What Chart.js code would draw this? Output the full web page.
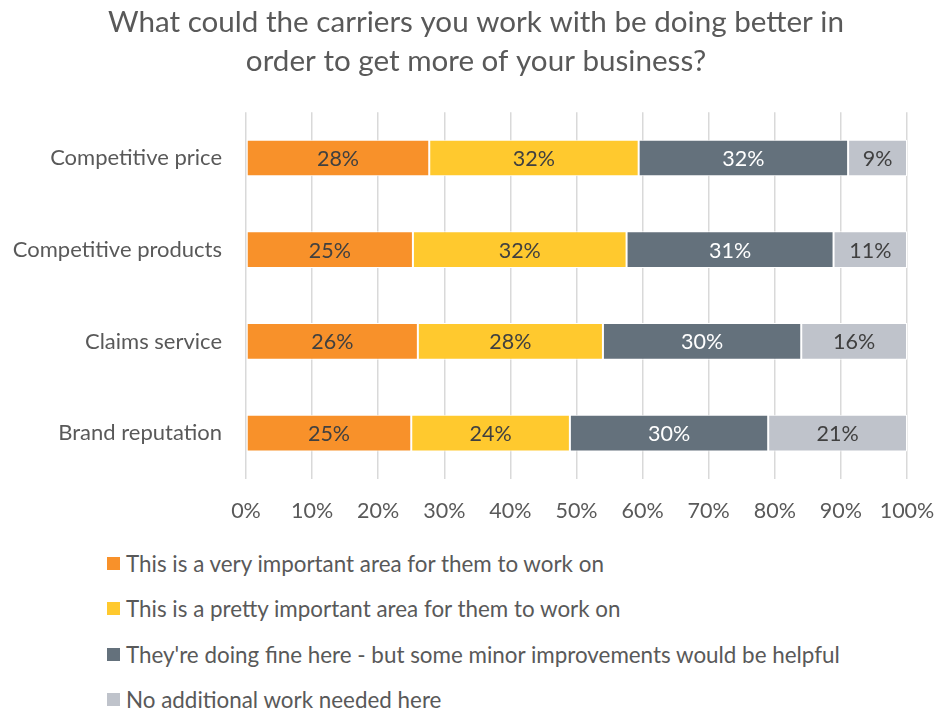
<!DOCTYPE html>
<html>
<head>
<meta charset="utf-8">
<script src="https://cdn.jsdelivr.net/npm/chart.js@4/dist/chart.umd.min.js"></script>
<style>
  html, body { margin: 0; padding: 0; background: #fff; }
  #wrap { position: relative; width: 942px; height: 709px; font-family: Lato, "Open Sans", sans-serif; }
  #chart { position: absolute; left: 0; top: 0; }
  #legend { position: absolute; left: 107px; top: 541px; color: #595959; font-size: 22.4px; }
  .item { height: 45.3px; display: flex; align-items: center; white-space: nowrap; }
  .box { width: 13px; height: 13px; margin-right: 6px; flex: none; }
</style>
</head>
<body>
<div id="wrap">
  <canvas id="chart" width="942" height="540"></canvas>
  <div id="legend"></div>
</div>
<script>
// Kategori dan nilai per jawaban (persen)
const categories = ['Competitive price', 'Competitive products', 'Claims service', 'Brand reputation'];
const seriesNames = [
  'This is a very important area for them to work on',
  'This is a pretty important area for them to work on',
  "They're doing fine here - but some minor improvements would be helpful",
  'No additional work needed here'
];
const veryImportant = [28, 25, 26, 25];
const prettyImportant = [32, 32, 28, 24];
const doingFine = [32, 31, 30, 30];
const noWork = [9, 11, 16, 21];
const tickLabels = ['0%', '10%', '20%', '30%', '40%', '50%', '60%', '70%', '80%', '90%', '100%'];

const colors = ['#F8912A', '#FFC92E', '#64717C', '#BFC3CB'];
const labelColors = ['#404040', '#404040', '#FFFFFF', '#404040'];
const raw = [veryImportant, prettyImportant, doingFine, noWork];
const fontFamily = 'Lato, "Open Sans", sans-serif';

// Total per baris, supaya batang jadi 100% (seperti stacked 100%)
const totals = categories.map((_, i) => raw.reduce((s, arr) => s + arr[i], 0));

const datasets = raw.map((arr, k) => ({
  label: seriesNames[k],
  data: arr.map((v, i) => v / totals[i] * 100),
  raw: arr,
  backgroundColor: colors[k],
  borderColor: '#FFFFFF',
  borderWidth: 1,
  borderSkipped: false,
  barPercentage: 0.4,
  categoryPercentage: 1
}));

// Plugin kecil untuk menulis angka di tengah tiap batang
const barLabels = {
  id: 'barLabels',
  afterDatasetsDraw(chart) {
    const ctx = chart.ctx;
    ctx.save();
    ctx.font = '21.5px ' + fontFamily;
    ctx.textAlign = 'center';
    ctx.textBaseline = 'middle';
    chart.data.datasets.forEach((ds, k) => {
      chart.getDatasetMeta(k).data.forEach((bar, i) => {
        const p = bar.getProps(['x', 'y', 'base']);
        ctx.fillStyle = labelColors[k];
        ctx.fillText(ds.raw[i] + '%', (p.x + p.base) / 2, p.y + 1);
      });
    });
    ctx.restore();
  }
};

const ctx = document.getElementById('chart').getContext('2d');
new Chart(ctx, {
  type: 'bar',
  data: { labels: categories, datasets: datasets },
  plugins: [barLabels],
  options: {
    indexAxis: 'y',
    responsive: false,
    animation: false,
    layout: { padding: { left: 10, right: 0, top: 0, bottom: 0 } },
    plugins: {
      legend: { display: false },
      tooltip: { enabled: false },
      title: {
        display: true,
        text: ['What could the carriers you work with be doing better in', 'order to get more of your business?'],
        color: '#595959',
        font: { family: fontFamily, size: 29.6, weight: 'normal', lineHeight: 1.32 },
        padding: { top: 3, bottom: 31 }
      }
    },
    scales: {
      x: {
        stacked: true,
        min: 0,
        max: 100,
        // ruang kanan tetap untuk label 100%
        afterFit(axis) { axis.height = 61; axis.paddingLeft = 0; axis.paddingRight = 35; },
        grid: { color: '#D9D9D9', lineWidth: 1.5, drawTicks: false },
        border: { display: false },
        ticks: {
          stepSize: 10,
          padding: 19,
          color: '#595959',
          font: { family: fontFamily, size: 21.5 },
          callback: (v, i) => tickLabels[i]
        }
      },
      y: {
        stacked: true,
        afterFit(axis) { axis.width = 236; },
        grid: { display: false, drawTicks: false },
        border: { display: false },
        ticks: {
          padding: 24,
          color: '#595959',
          font: { family: fontFamily, size: 22 }
        }
      }
    }
  }
});

// Legenda satu baris per seri
const legend = document.getElementById('legend');
seriesNames.forEach((name, k) => {
  const row = document.createElement('div');
  row.className = 'item';
  row.innerHTML = '<span class="box" style="background:' + colors[k] + '"></span><span></span>';
  row.lastChild.textContent = name;
  legend.appendChild(row);
});
</script>
</body>
</html>
